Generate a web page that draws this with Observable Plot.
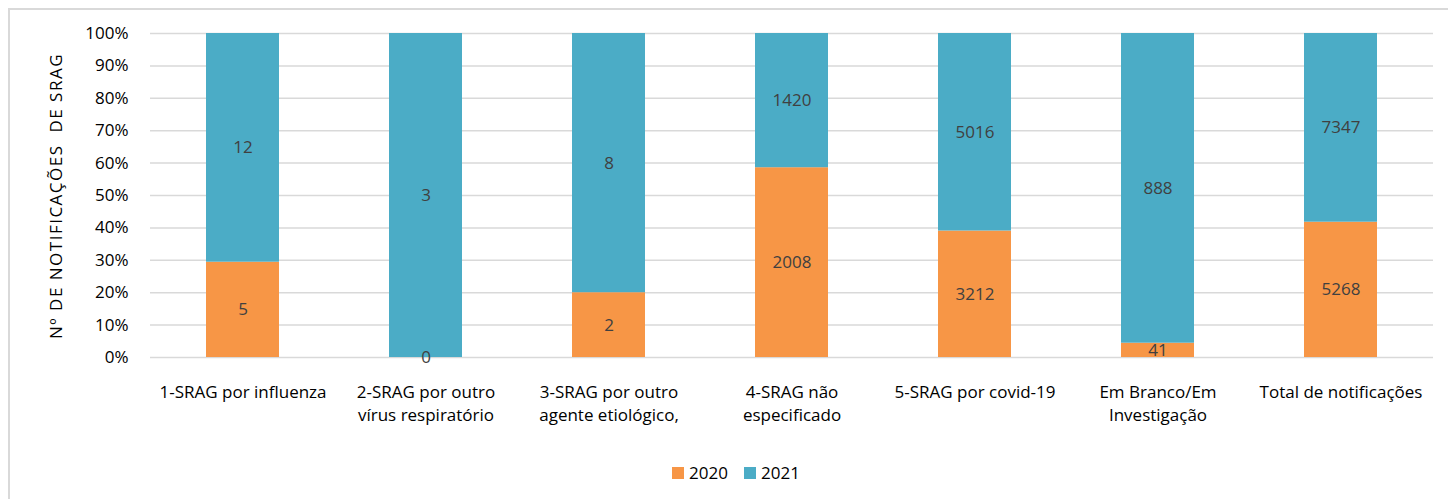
<!DOCTYPE html>
<html>
<head>
<meta charset="utf-8">
<script src="https://cdn.jsdelivr.net/npm/d3@7"></script>
<script src="https://cdn.jsdelivr.net/npm/@observablehq/plot@0.6"></script>
<style>
  html, body { margin: 0; padding: 0; background: #fff; width: 1448px; height: 499px; overflow: hidden; }
  #frame { position: absolute; left: 8px; top: 8px; width: 1460px; height: 520px; border: 2px solid #d9d9d9; box-sizing: border-box; }
  #chart { position: absolute; left: 0; top: 0; }
  #ylabel { position: absolute; left: 55px; top: 196px; transform: translate(-50%, -50%) rotate(-90deg); font: 17px "Open Sans", sans-serif; letter-spacing: 1.5px; color: #000; white-space: pre; }
  #legend { position: absolute; top: 461px; left: 0; width: 1448px; display: flex; justify-content: center; gap: 16px; font: 17px "Open Sans", sans-serif; color: #000; padding-left: 24px; box-sizing: border-box; }
  #legend span.item { display: flex; align-items: center; gap: 5px; }
  #legend span.sw { width: 12px; height: 12px; display: inline-block; }
</style>
</head>
<body>
<div id="frame"></div>
<div id="chart"></div>
<div id="ylabel">Nº DE NOTIFICAÇÕES  DE SRAG</div>
<div id="legend"></div>
<script>
const categories = [
  "1-SRAG por influenza",
  "2-SRAG por outro\nvírus respiratório",
  "3-SRAG por outro\nagente etiológico,",
  "4-SRAG não\nespecificado",
  "5-SRAG por covid-19",
  "Em Branco/Em\nInvestigação",
  "Total de notificações"
];
const series = ["2020", "2021"];
const values2020 = [5, 0, 2, 2008, 3212, 41, 5268];
const values2021 = [12, 3, 8, 1420, 5016, 888, 7347];
const colors = ["#F79646", "#4BACC6"];
const yTicks = [0, 0.1, 0.2, 0.3, 0.4, 0.5, 0.6, 0.7, 0.8, 0.9, 1];

const data = [];
categories.forEach((c, i) => {
  data.push({category: c, year: "2020", value: values2020[i]});
  data.push({category: c, year: "2021", value: values2021[i]});
});

const stackOpts = {x: "category", y: "value", z: "year", offset: "normalize", order: series};

const plot = Plot.plot({
  width: 1448,
  height: 430,
  marginLeft: 150,
  marginRight: 15,
  marginTop: 33,
  marginBottom: 73,
  style: {fontFamily: "'Open Sans', sans-serif", fontSize: "17px", color: "#000", background: "transparent"},
  x: {domain: categories, paddingInner: 0.6, paddingOuter: 0.3, label: null},
  y: {domain: [0, 1], label: null},
  color: {domain: series, range: colors},
  marks: [
    Plot.ruleY(yTicks, {stroke: "#d9d9d9", strokeWidth: 1.5}),
    Plot.barY(data, Plot.stackY({...stackOpts, fill: "year", inset: 0})),
    Plot.text(data, Plot.stackY({...stackOpts, text: d => String(d.value), fill: "#404040", fontSize: 17})),
    Plot.axisX({tickSize: 0, tickPadding: 24, lineHeight: 1.35, fontSize: 17, fill: "#000", label: null}),
    Plot.axisY({ticks: yTicks, tickFormat: d => Math.round(d * 100) + "%", tickSize: 0, tickPadding: 22, fontSize: 17, fill: "#000", label: null})
  ]
});
document.getElementById("chart").appendChild(plot);

const legend = document.getElementById("legend");
series.forEach((s, i) => {
  const item = document.createElement("span");
  item.className = "item";
  const sw = document.createElement("span");
  sw.className = "sw";
  sw.style.background = colors[i];
  item.appendChild(sw);
  item.appendChild(document.createTextNode(s));
  legend.appendChild(item);
});
</script>
</body>
</html>
